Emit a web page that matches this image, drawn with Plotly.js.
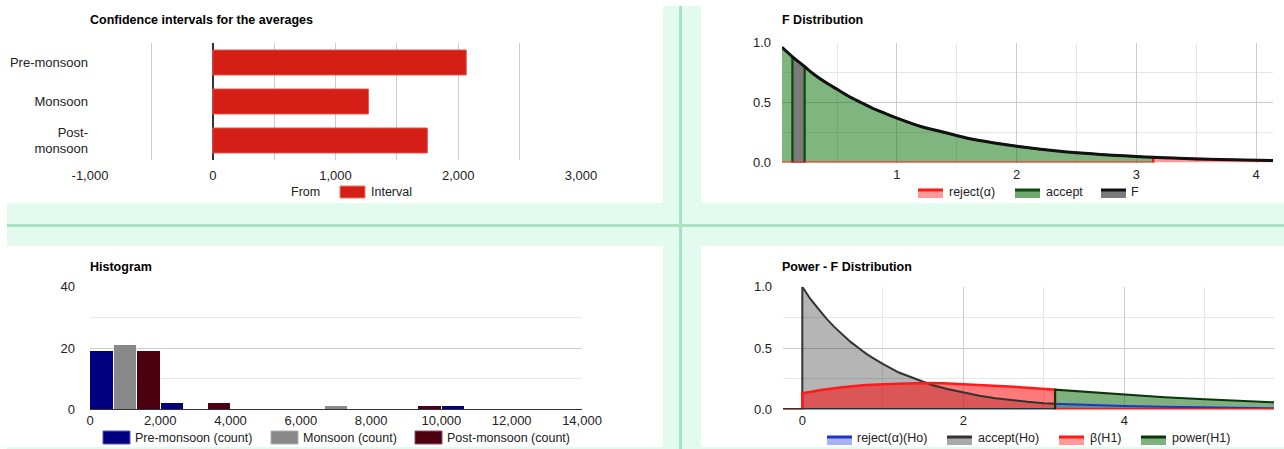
<!DOCTYPE html>
<html>
<head>
<meta charset="utf-8">
<script src="https://cdn.plot.ly/plotly-3.0.1.min.js"></script>
<style>
html,body{margin:0;padding:0;background:#fff;}
#chart{width:1284px;height:449px;}
</style>
</head>
<body>
<div id="chart"></div>
<script>
// ---------- DATA ----------
// Confidence intervals for the averages
const ciCategories = ["Pre-monsoon", "Monsoon", "Post-monsoon"];
const ciTickText = ["Pre-monsoon", "Monsoon", "Post-<br>monsoon"];
const ciFrom = [-620, -340, -480];          // hidden (transparent) series
const ciInterval = [2065, 1268, 1748];

// Histogram (bins of 2,000)
const histBinCenters = [1000, 3000, 5000, 7000, 9000, 11000, 13000];
const histPre = [19, 2, 0, 0, 0, 1, 0];
const histMonsoon = [21, 0, 0, 1, 0, 0, 0];
const histPost = [19, 2, 0, 0, 1, 0, 0];

// F distribution density
const fX = [0.04, 0.128, 0.228, 0.3, 0.4, 0.5, 0.6, 0.7, 0.8, 0.9, 1.0, 1.2, 1.4, 1.6, 1.8, 2.0, 2.2, 2.4, 2.6, 2.8, 3.0, 3.14, 3.3, 3.5, 3.7, 3.9, 4.14];
const fY = [0.96, 0.88, 0.80, 0.74, 0.67, 0.61, 0.55, 0.50, 0.45, 0.41, 0.37, 0.30, 0.25, 0.20, 0.165, 0.135, 0.11, 0.09, 0.074, 0.061, 0.05, 0.043, 0.037, 0.030, 0.025, 0.020, 0.016];
const fCritical = 3.14;
const fStatFrom = 0.128, fStatTo = 0.228;

// Power - F distribution
const h0X = [0, 0.1, 0.2, 0.3, 0.4, 0.5, 0.6, 0.7, 0.8, 0.9, 1.0, 1.2, 1.4, 1.6, 1.8, 2.0, 2.2, 2.4, 2.6, 2.8, 3.0, 3.14, 3.5, 4.0, 4.5, 5.0, 5.5, 5.86];
const h0Y = [1.0, 0.90, 0.82, 0.74, 0.67, 0.61, 0.55, 0.50, 0.45, 0.41, 0.37, 0.30, 0.25, 0.20, 0.165, 0.135, 0.11, 0.09, 0.074, 0.061, 0.05, 0.046, 0.036, 0.027, 0.021, 0.016, 0.011, 0.008];
const h1X = [0, 0.25, 0.5, 0.75, 1.0, 1.25, 1.5, 1.75, 2.0, 2.25, 2.5, 2.75, 3.0, 3.14, 3.5, 4.0, 4.5, 5.0, 5.5, 5.86];
const h1Y = [0.13, 0.16, 0.18, 0.196, 0.205, 0.212, 0.215, 0.213, 0.206, 0.198, 0.189, 0.178, 0.167, 0.16, 0.142, 0.118, 0.098, 0.081, 0.066, 0.057];
const pCritical = 3.14;
const pXmin = -0.24, pXmax = 5.86;

// ---------- helpers ----------
const W = 1284, H = 449;
const px = v => v / W;
const py = v => 1 - v / H;
const FONT = "Liberation Sans, Arial, sans-serif";

function interp(xs, ys, x) {
  for (let i = 0; i < xs.length - 1; i++) {
    if (x >= xs[i] && x <= xs[i + 1]) {
      const t = (x - xs[i]) / (xs[i + 1] - xs[i]);
      return ys[i] + t * (ys[i + 1] - ys[i]);
    }
  }
  return ys[ys.length - 1];
}

// ---------- traces ----------
const traces = [];

// Panel 1: confidence intervals
traces.push({
  type: "bar", orientation: "h", name: "From",
  y: ciCategories, x: ciFrom, xaxis: "x", yaxis: "y",
  width: 0.64, marker: {color: "rgba(0,0,0,0)"}, hoverinfo: "skip", showlegend: false
});
traces.push({
  type: "bar", orientation: "h", name: "Interval",
  y: ciCategories, x: ciInterval, xaxis: "x", yaxis: "y",
  width: 0.64, marker: {color: "#d41e16", line: {color: "#e0544d", width: 1}}, showlegend: false
});

// Panel 2: F distribution
(function () {
  const ax = [], ay = [];
  for (let i = 0; i < fX.length; i++) {
    const x = fX[i], y = fY[i];
    if (x > fCritical) break;
    if (x === fStatFrom) { ax.push(x, x); ay.push(y, 0); continue; }
    if (x === fStatTo) { ax.push(x, x); ay.push(0, y); continue; }
    ax.push(x); ay.push(y);
  }
  ax.push(fCritical); ay.push(0);
  traces.push({
    type: "scatter", mode: "lines", name: "accept", x: ax, y: ay, xaxis: "x2", yaxis: "y2",
    fill: "tozeroy", fillcolor: "rgba(0,110,0,0.5)", line: {color: "#0d4a0d", width: 2}, showlegend: false
  });
  const y1 = interp(fX, fY, fStatFrom), y2 = interp(fX, fY, fStatTo);
  traces.push({
    type: "scatter", mode: "lines", name: "F",
    x: [fStatFrom, fStatFrom, fStatTo, fStatTo], y: [0, y1, y2, 0], xaxis: "x2", yaxis: "y2",
    fill: "toself", fillcolor: "#7a7a7a", line: {color: "#0d4a0d", width: 2}, showlegend: false
  });
  const rx = [fX[0], fCritical], ry = [0, 0];
  rx.push(fCritical); ry.push(interp(fX, fY, fCritical));
  for (let i = 0; i < fX.length; i++) if (fX[i] > fCritical) { rx.push(fX[i]); ry.push(fY[i]); }
  traces.push({
    type: "scatter", mode: "lines", name: "reject(α)", x: rx, y: ry, xaxis: "x2", yaxis: "y2",
    fill: "tozeroy", fillcolor: "rgba(255,0,0,0.4)", line: {color: "#ff1a1a", width: 2}, showlegend: false
  });
  traces.push({
    type: "scatter", mode: "lines", name: "F density", x: fX, y: fY, xaxis: "x2", yaxis: "y2",
    line: {color: "#111", width: 3, shape: "spline", smoothing: 0.6}, showlegend: false, hoverinfo: "skip"
  });
})();

// Panel 3: histogram
const binW = 2000, barW = 640;
[[histPre, "Pre-monsoon (count)", "#000080", -binW / 3],
 [histMonsoon, "Monsoon (count)", "#888888", 0],
 [histPost, "Post-monsoon (count)", "#4d0010", binW / 3]].forEach(([vals, name, col, shift]) => {
  traces.push({
    type: "bar", name: name, x: histBinCenters, y: vals, xaxis: "x3", yaxis: "y3",
    width: barW, offset: shift - barW / 2, marker: {color: col}, showlegend: false
  });
});

// Panel 4: power  (all areas first, then all outlines, in series order)
(function () {
  const tailH0x = [], tailH0y = [], bodyH0x = [], bodyH0y = [];
  h0X.forEach((x, i) => { if (x <= pCritical) { bodyH0x.push(x); bodyH0y.push(h0Y[i]); } else { tailH0x.push(x); tailH0y.push(h0Y[i]); } });
  const tailH1x = [], tailH1y = [], bodyH1x = [], bodyH1y = [];
  h1X.forEach((x, i) => { if (x <= pCritical) { bodyH1x.push(x); bodyH1y.push(h1Y[i]); } else { tailH1x.push(x); tailH1y.push(h1Y[i]); } });
  const c0 = interp(h0X, h0Y, pCritical), c1 = interp(h1X, h1Y, pCritical);

  const series = [
    {name: "reject(α)(Ho)", x: [pXmin, pCritical, pCritical, ...tailH0x], y: [0, 0, c0, ...tailH0y],
     fill: "rgba(40,60,220,0.35)", line: "#2233cc", w: 2},
    {name: "accept(Ho)", x: [pXmin, 0, ...bodyH0x, pCritical, pCritical, pXmax], y: [0, 0, ...bodyH0y, c0, 0, 0],
     fill: "rgba(0,0,0,0.29)", line: "#333333", w: 2},
    {name: "β(H1)", x: [pXmin, 0, ...bodyH1x, pCritical, pCritical, pXmax], y: [0, 0, ...bodyH1y, c1, 0, 0],
     fill: "rgba(255,0,0,0.52)", line: "#ff1a1a", w: 2.5},
    {name: "power(H1)", x: [pXmin, pCritical, pCritical, ...tailH1x], y: [0, 0, c1, ...tailH1y],
     fill: "rgba(0,100,0,0.5)", line: "#0b360b", w: 2}
  ];
  series.forEach(s => traces.push({
    type: "scatter", mode: "lines", name: s.name, x: s.x, y: s.y, xaxis: "x4", yaxis: "y4",
    fill: "tozeroy", fillcolor: s.fill, line: {width: 0, color: s.line}, showlegend: false
  }));
  series.forEach(s => traces.push({
    type: "scatter", mode: "lines", name: s.name + " line", x: s.x, y: s.y, xaxis: "x4", yaxis: "y4",
    line: {width: s.w, color: s.line}, showlegend: false, hoverinfo: "skip"
  }));
})();

// ---------- layout ----------
const tickFont = {family: FONT, size: 13, color: "#222"};
const GRID = "#cccccc", MINOR = "#e6e6e6";

const shapes = [];
const MINT = "#e3fbee", MINTLINE = "#a7e2c3";
function rectPx(x0, y0, x1, y1, fill, line, layer) {
  shapes.push({type: "rect", xref: "paper", yref: "paper", x0: px(x0), x1: px(x1), y0: py(y1), y1: py(y0),
    fillcolor: fill, line: line || {width: 0}, layer: layer || "below"});
}
rectPx(7, 203, 1284, 246, MINT);
rectPx(663, 6, 701, 449, MINT);
rectPx(7, 447, 1284, 449, MINT);
rectPx(7, 224, 1284, 227, MINTLINE);
rectPx(679, 6, 682, 449, MINTLINE);

const annotations = [];
function text(t, x, y, opts) {
  annotations.push(Object.assign({text: t, xref: "paper", yref: "paper", x: px(x), y: py(y),
    xanchor: "left", yanchor: "middle", showarrow: false,
    font: {family: FONT, size: 12.5, color: "#222"}}, opts || {}));
}
const titleFont = {family: FONT, size: 12.5, color: "#000"};
text("<b>Confidence intervals for the averages</b>", 88, 20, {font: titleFont});
text("<b>F Distribution</b>", 780, 20, {font: titleFont});
text("<b>Histogram</b>", 88, 267, {font: titleFont});
text("<b>Power - F Distribution</b>", 780, 267, {font: titleFont});

// legends
text("From", 289, 191.5);
rectPx(340, 186, 365, 198, "#d41e16", {color: "#e57b75", width: 1}, "above");
text("Interval", 369, 191.5);
function areaSwatch(x0, yTop, lineCol, fillCol) {
  rectPx(x0, yTop + 1, x0 + 25, yTop + 9, fillCol, {width: 0}, "above");
  shapes.push({type: "line", xref: "paper", yref: "paper", x0: px(x0), x1: px(x0 + 25), y0: py(yTop + 1), y1: py(yTop + 1),
    line: {color: lineCol, width: 3}, layer: "above"});
}
areaSwatch(918, 189, "#ff1a1a", "#ff9a9a");
text("reject(α)", 947, 191.5);
areaSwatch(1015, 189, "#0d4a0d", "#6fa86f");
text("accept", 1044, 191.5);
areaSwatch(1101, 189, "#111", "#7a7a7a");
text("F", 1129, 191.5);
rectPx(103, 431, 130, 444, "#000080", {color: "#5a5ab0", width: 1}, "above");
text("Pre-monsoon (count)", 133, 437.5);
rectPx(271, 431, 298, 444, "#888888", {color: "#b0b0b0", width: 1}, "above");
text("Monsoon (count)", 301, 437.5);
rectPx(415, 431, 442, 444, "#4d0010", {color: "#8a5060", width: 1}, "above");
text("Post-monsoon (count)", 445, 437.5);
areaSwatch(827, 436, "#2233cc", "#a8b2ee");
text("reject(α)(Ho)", 855, 438);
areaSwatch(947, 436, "#333", "#a8a8a8");
text("accept(Ho)", 976, 438);
areaSwatch(1059, 436, "#ff1a1a", "#ff9a9a");
text("β(H1)", 1088, 438);
areaSwatch(1141, 436, "#0b360b", "#7fb07f");
text("power(H1)", 1170, 438);

const layout = {
  width: W, height: H,
  margin: {l: 0, r: 0, t: 0, b: 0, pad: 0},
  paper_bgcolor: "#ffffff", plot_bgcolor: "rgba(0,0,0,0)",
  font: {family: FONT, size: 13, color: "#222"},
  barmode: "overlay", bargap: 0,
  showlegend: false,
  xaxis: {domain: [px(90), px(581)], anchor: "y", range: [-1000, 3000],
    tickmode: "array", tickvals: [-1000, -500, 0, 500, 1000, 1500, 2000, 2500, 3000],
    ticktext: ["-1,000", "", "0", "", "1,000", "", "2,000", "", "3,000"],
    showgrid: true, gridcolor: GRID, gridwidth: 1, zeroline: true, zerolinecolor: "#333", zerolinewidth: 1.5,
    showline: false, ticks: "", tickfont: tickFont, ticklabelstandoff: 6, fixedrange: true},
  yaxis: {domain: [py(160), py(43)], anchor: "x", type: "category", autorange: "reversed",
    tickmode: "array", tickvals: ciCategories, ticktext: ciTickText,
    showgrid: false, zeroline: false, showline: false, ticks: "", tickfont: tickFont, ticklabelstandoff: 1, fixedrange: true},
  xaxis2: {domain: [px(782), px(1273)], anchor: "y2", range: [fX[0], fX[fX.length - 1]],
    tickmode: "linear", tick0: 0, dtick: 1, showgrid: true, gridcolor: GRID,
    minor: {tickmode: "linear", tick0: 0, dtick: 0.5, showgrid: true, gridcolor: MINOR, ticks: ""},
    zeroline: false, showline: false, ticks: "", tickfont: tickFont, ticklabelstandoff: 2},
  yaxis2: {domain: [py(162.5), py(42.5)], anchor: "x2", range: [0, 1],
    tickmode: "linear", tick0: 0, dtick: 0.5, tickformat: ".1f", showgrid: true, gridcolor: GRID,
    minor: {tickmode: "linear", tick0: 0, dtick: 0.25, showgrid: true, gridcolor: MINOR, ticks: ""},
    zeroline: false, showline: false, ticks: "", tickfont: tickFont, ticklabelstandoff: 10},
  xaxis3: {domain: [px(90), px(582)], anchor: "y3", range: [0, 14000],
    tickmode: "linear", tick0: 0, dtick: 2000, tickformat: ",d", showgrid: false,
    zeroline: false, showline: false, ticks: "", tickfont: tickFont, ticklabelstandoff: 2},
  yaxis3: {domain: [py(409.3), py(286.7)], anchor: "x3", range: [0, 40],
    tickmode: "linear", tick0: 0, dtick: 20, showgrid: true, gridcolor: GRID,
    minor: {tickmode: "linear", tick0: 0, dtick: 10, showgrid: true, gridcolor: MINOR, ticks: ""},
    zeroline: true, zerolinecolor: "#333", zerolinewidth: 1.5, showline: false, ticks: "", tickfont: tickFont, ticklabelstandoff: 14},
  xaxis4: {domain: [px(783), px(1274)], anchor: "y4", range: [pXmin, pXmax],
    tickmode: "linear", tick0: 0, dtick: 2, tickformat: "d", showgrid: true, gridcolor: GRID,
    minor: {tickmode: "linear", tick0: 0, dtick: 1, showgrid: true, gridcolor: MINOR, ticks: ""},
    zeroline: false, showline: false, ticks: "", tickfont: tickFont, ticklabelstandoff: 2},
  yaxis4: {domain: [py(409.3), py(286.7)], anchor: "x4", range: [0, 1],
    tickmode: "linear", tick0: 0, dtick: 0.5, tickformat: ".1f", showgrid: true, gridcolor: GRID,
    minor: {tickmode: "linear", tick0: 0, dtick: 0.25, showgrid: true, gridcolor: MINOR, ticks: ""},
    zeroline: false, showline: false, ticks: "", tickfont: tickFont, ticklabelstandoff: 10},
  shapes: shapes,
  annotations: annotations
};

Plotly.newPlot("chart", traces, layout, {displayModeBar: false, staticPlot: true});
</script>
</body>
</html>
